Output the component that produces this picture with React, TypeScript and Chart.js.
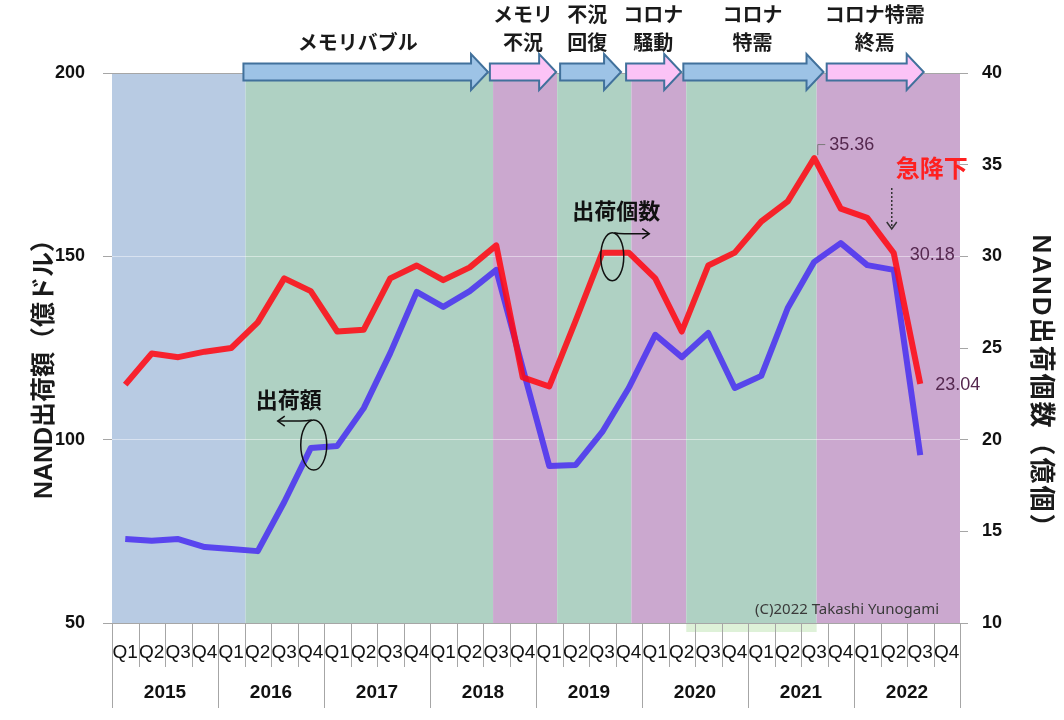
import { useEffect, useRef } from "react";
import { Chart, registerables } from "chart.js";

Chart.register(...registerables);

// Quarterly categories, 2015 Q1 – 2022 Q4
const years = ["2015", "2016", "2017", "2018", "2019", "2020", "2021", "2022"];
const quarterNames = ["Q1", "Q2", "Q3", "Q4"];
const quarters = years.flatMap(() => quarterNames);

// NAND shipment units (100 million pieces) – right axis
const unitShipments = [
  23.0, 24.7, 24.5, 24.8, 25.0, 26.4, 28.8, 28.1, 25.9, 26.0, 28.8, 29.5, 28.7, 29.4, 30.6,
  23.4, 22.9, 26.5, 30.2, 30.2, 28.8, 25.9, 29.5, 30.2, 31.9, 33.0, 35.36, 32.6, 32.1, 30.18, 23.04,
];

// NAND shipment value (100 million USD) – left axis
const valueShipments = [
  72.9, 72.4, 72.9, 70.7, 70.2, 69.6, 83.0, 97.7, 98.3, 108.6, 123.6, 140.3, 136.2, 140.5, 146.3,
  119.5, 92.8, 93.1, 102.1, 114.1, 128.6, 122.5, 129.1, 114.1, 117.4, 135.9, 148.5, 153.6, 147.6, 146.3, 95.8,
];

// Market phases shaded behind the lines (in category index units)
const phaseStart = [-0.5, 4.54, 13.88, 16.3, 19.1, 21.17, 26.09];
const phaseEnd = [4.54, 13.88, 16.3, 19.1, 21.17, 26.09, 31.5];
const phaseKind = ["early", "up", "down", "up", "down", "up", "down"];

// Phase arrows along the top edge
const arrowLabels = [["メモリバブル"], ["メモリ", "不況"], ["不況", "回復"], ["コロナ", "騒動"], ["コロナ", "特需"], ["コロナ特需", "終焉"]];
const arrowFrom = [4.46, 13.76, 16.41, 18.9, 21.06, 26.47];
const arrowTo = [13.69, 16.26, 18.71, 20.98, 26.35, 30.13];
const arrowLabelAt = [8.77, 15.01, 17.43, 19.92, 23.67, 28.28];
const arrowKind = ["up", "down", "up", "down", "up", "down"];

const leftTicks = [50, 100, 150, 200];
const rightTicks = [10, 15, 20, 25, 30, 35, 40];

const LATIN = '"Liberation Sans", Arial, sans-serif';
const JP = '"Liberation Sans", "Noto Sans CJK JP", sans-serif';

const bandColors: Record<string, string> = { early: "#b8cbe3", up: "#afd1c3", down: "#cba8cf" };
const arrowFill: Record<string, string> = { up: "#9dc3e6", down: "#fbc3f6" };

function blockArrow(ctx: CanvasRenderingContext2D, x0: number, x1: number, cy: number, fill: string) {
  const bodyH = 8.5, headH = 18, headL = 17;
  ctx.beginPath();
  ctx.moveTo(x0, cy - bodyH);
  ctx.lineTo(x1 - headL, cy - bodyH);
  ctx.lineTo(x1 - headL, cy - headH);
  ctx.lineTo(x1, cy);
  ctx.lineTo(x1 - headL, cy + headH);
  ctx.lineTo(x1 - headL, cy + bodyH);
  ctx.lineTo(x0, cy + bodyH);
  ctx.closePath();
  ctx.fillStyle = fill;
  ctx.fill();
  ctx.lineWidth = 2;
  ctx.strokeStyle = "#41719c";
  ctx.stroke();
}

function arrowHead(ctx: CanvasRenderingContext2D, x: number, y: number, dir: number) {
  ctx.beginPath();
  ctx.moveTo(x - dir * 7, y - 5);
  ctx.lineTo(x, y);
  ctx.lineTo(x - dir * 7, y + 5);
  ctx.stroke();
}

const decorations = {
  id: "decorations",
  beforeDraw(chart: any) {
    const { ctx, chartArea: a, scales } = chart;
    const xs = scales.x;
    ctx.save();
    phaseStart.forEach((s, i) => {
      const x0 = xs.getPixelForValue(s);
      const x1 = xs.getPixelForValue(phaseEnd[i]);
      ctx.fillStyle = bandColors[phaseKind[i]];
      ctx.fillRect(x0, a.top, x1 - x0, a.bottom - a.top);
    });
    // the 2020–21 shading spills slightly below the axis line
    const gx0 = xs.getPixelForValue(phaseStart[5]);
    const gx1 = xs.getPixelForValue(phaseEnd[5]);
    ctx.fillStyle = "rgba(200,232,190,0.6)";
    ctx.fillRect(gx0, a.bottom, gx1 - gx0, 9);
    ctx.restore();
  },
  afterDraw(chart: any) {
    const { ctx, chartArea: a, scales } = chart;
    const xs = scales.x;
    const yL = scales.yL;
    const yR = scales.yR;
    ctx.save();

    // category separators and year labels below the plot
    ctx.strokeStyle = "#a6a6a6";
    ctx.lineWidth = 1;
    for (let i = 0; i <= quarters.length; i++) {
      const px = Math.round(xs.getPixelForValue(i - 0.5)) + 0.5;
      ctx.beginPath();
      ctx.moveTo(px, a.bottom);
      ctx.lineTo(px, a.bottom + (i % 4 === 0 ? 85 : 44));
      ctx.stroke();
    }
    ctx.fillStyle = "#111";
    ctx.font = `bold 19px ${LATIN}`;
    ctx.textAlign = "center";
    ctx.textBaseline = "middle";
    years.forEach((yr, i) => {
      ctx.fillText(yr, xs.getPixelForValue(i * 4 + 1.5), a.bottom + 70);
    });

    // phase arrows and their captions
    arrowFrom.forEach((f, i) => {
      blockArrow(ctx, xs.getPixelForValue(f), xs.getPixelForValue(arrowTo[i]), a.top - 1, arrowFill[arrowKind[i]]);
    });
    ctx.fillStyle = "#1a1a1a";
    ctx.font = `bold 20px ${JP}`;
    arrowLabels.forEach((lines, i) => {
      const cx = xs.getPixelForValue(arrowLabelAt[i]);
      lines.forEach((t, j) => {
        const cy = lines.length === 1 ? 44 : 16 + j * 28;
        ctx.fillText(t, cx, cy);
      });
    });

    // axis titles
    ctx.font = `bold 25px ${JP}`;
    ctx.save();
    ctx.translate(45, 363);
    ctx.rotate(-Math.PI / 2);
    ctx.fillText("NAND出荷額（億ドル）", 0, 0);
    ctx.restore();
    ctx.save();
    ctx.font = `bold 26px ${JP}`;
    (ctx as any).letterSpacing = "2px";
    ctx.translate(1040, 388);
    ctx.rotate(Math.PI / 2);
    ctx.fillText("NAND出荷個数（億個）", 0, 0);
    ctx.restore();

    // value callouts on the unit line
    const pk = 26, p2 = 29, p3 = 30;
    const pkx = xs.getPixelForValue(pk), pky = yR.getPixelForValue(unitShipments[pk]);
    ctx.strokeStyle = "#7a7a7a";
    ctx.lineWidth = 1;
    ctx.beginPath();
    ctx.moveTo(pkx + 3.5, pky - 3);
    ctx.lineTo(pkx + 3.5, pky - 13.5);
    ctx.lineTo(pkx + 11, pky - 13.5);
    ctx.stroke();
    ctx.fillStyle = "#55284f";
    ctx.font = `18px ${LATIN}`;
    ctx.textAlign = "left";
    ctx.fillText(unitShipments[pk].toFixed(2), pkx + 15, pky - 13);

    const p2x = xs.getPixelForValue(p2), p2y = yR.getPixelForValue(unitShipments[p2]);
    ctx.textAlign = "right";
    ctx.fillText(unitShipments[p2].toFixed(2), p2x + 61, p2y + 2);

    const p3x = xs.getPixelForValue(p3), p3y = yR.getPixelForValue(unitShipments[p3]);
    ctx.textAlign = "left";
    ctx.fillText(unitShipments[p3].toFixed(2), p3x + 15, p3y + 1);

    // sharp drop note with dotted pointer
    ctx.fillStyle = "#ff2020";
    ctx.font = `bold 24px ${JP}`;
    ctx.textAlign = "center";
    ctx.fillText("急降下", xs.getPixelForValue(30.43), yR.getPixelForValue(34.7));
    ctx.strokeStyle = "#333";
    ctx.lineWidth = 1.5;
    ctx.setLineDash([2, 2]);
    ctx.beginPath();
    ctx.moveTo(p2x - 2, p2y - 65);
    ctx.lineTo(p2x - 2, p2y - 25);
    ctx.stroke();
    ctx.setLineDash([]);
    ctx.beginPath();
    ctx.moveTo(p2x - 7, p2y - 31);
    ctx.lineTo(p2x - 2, p2y - 24);
    ctx.lineTo(p2x + 3, p2y - 31);
    ctx.stroke();

    // series callouts: ellipse around a point with an arrow toward its axis
    ctx.strokeStyle = "#111";
    ctx.lineWidth = 1.5;
    ctx.fillStyle = "#111";
    ctx.font = `bold 22px ${JP}`;

    const ux = xs.getPixelForValue(18), uy = yR.getPixelForValue(unitShipments[18]);
    ctx.beginPath();
    ctx.ellipse(ux + 10, uy + 4, 11.5, 24, 0, 0, Math.PI * 2);
    ctx.stroke();
    ctx.beginPath();
    ctx.moveTo(ux + 12, uy - 20);
    ctx.quadraticCurveTo(ux + 16, uy - 19, ux + 22, uy - 19);
    ctx.lineTo(ux + 47, uy - 19);
    ctx.stroke();
    arrowHead(ctx, ux + 47, uy - 19, 1);
    ctx.textAlign = "center";
    ctx.fillText("出荷個数", ux + 14, uy - 40);

    const vx = xs.getPixelForValue(7), vy = yL.getPixelForValue(valueShipments[7]);
    ctx.beginPath();
    ctx.ellipse(vx + 3, vy - 3, 13, 25, 0, 0, Math.PI * 2);
    ctx.stroke();
    ctx.beginPath();
    ctx.moveTo(vx + 1, vy - 28);
    ctx.quadraticCurveTo(vx - 4, vy - 27, vx - 10, vy - 27);
    ctx.lineTo(vx - 33, vy - 27);
    ctx.stroke();
    arrowHead(ctx, vx - 33, vy - 27, -1);
    ctx.fillText("出荷額", vx - 22, vy - 46);

    // credit line
    ctx.fillStyle = "#3a3a3a";
    ctx.font = `15px "Noto Sans", sans-serif`;
    ctx.textAlign = "left";
    ctx.fillText("(C)2022 Takashi Yunogami", 755, a.bottom - 13);

    ctx.restore();
  },
};

export default function App() {
  const canvasRef = useRef<HTMLCanvasElement | null>(null);

  useEffect(() => {
    const canvas = canvasRef.current;
    if (!canvas) return;
    const chart = new Chart(canvas, {
      type: "line",
      data: {
        labels: quarters,
        datasets: [
          {
            label: "出荷個数",
            data: unitShipments,
            yAxisID: "yR",
            borderColor: "rgba(255,10,20,0.88)",
            borderWidth: 6,
            borderJoinStyle: "round",
            pointRadius: 0,
            tension: 0,
          },
          {
            label: "出荷額",
            data: valueShipments,
            yAxisID: "yL",
            borderColor: "rgba(75,50,240,0.88)",
            borderWidth: 6,
            borderJoinStyle: "round",
            pointRadius: 0,
            tension: 0,
          },
        ],
      },
      options: {
        responsive: false,
        animation: false,
        layout: { padding: { top: 73, left: 0, right: 0, bottom: 0 } },
        plugins: { legend: { display: false }, tooltip: { enabled: false } },
        scales: {
          x: {
            type: "category",
            offset: true,
            grid: { display: false, drawTicks: false },
            border: { display: true, color: "#a6a6a6" },
            ticks: {
              autoSkip: false,
              maxRotation: 0,
              minRotation: 0,
              padding: 18,
              color: "#111",
              font: { family: LATIN, size: 19 },
            },
            afterFit: (s: any) => {
              s.height = 97;
            },
          },
          yL: {
            type: "linear",
            position: "left",
            min: 50,
            max: 200,
            afterBuildTicks: (s: any) => {
              s.ticks = leftTicks.map((v) => ({ value: v }));
            },
            grid: {
              color: (c: any) =>
                c.tick && (c.tick.value === 50 || c.tick.value === 200) ? "#a6a6a6" : "rgba(255,255,255,0.45)",
              tickColor: "#a6a6a6",
              tickLength: 9,
              lineWidth: 1,
            },
            border: { display: false },
            ticks: { padding: 18, color: "#111", font: { family: LATIN, size: 18, weight: "bold" } },
            afterFit: (s: any) => {
              s.width = 112;
            },
          },
          yR: {
            type: "linear",
            position: "right",
            min: 10,
            max: 40,
            afterBuildTicks: (s: any) => {
              s.ticks = rightTicks.map((v) => ({ value: v }));
            },
            grid: { drawOnChartArea: false, tickColor: "#a6a6a6", tickLength: 8 },
            border: { display: false },
            ticks: { padding: 14, color: "#111", font: { family: LATIN, size: 18, weight: "bold" } },
            afterFit: (s: any) => {
              s.width = 104;
            },
          },
        },
      },
      plugins: [decorations],
    });
    return () => chart.destroy();
  }, []);

  return (
    <div style={{ position: "absolute", left: 0, top: 0, width: 1064, height: 720, background: "#fff" }}>
      <canvas ref={canvasRef} width={1064} height={720} style={{ display: "block" }} />
    </div>
  );
}
